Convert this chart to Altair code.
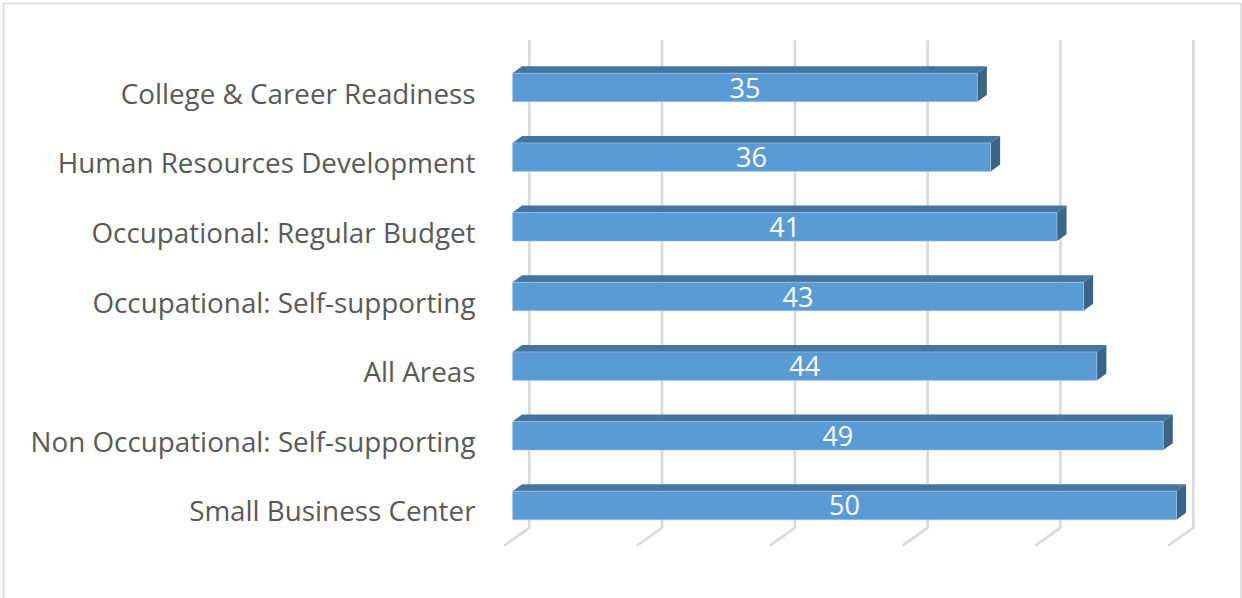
import altair as alt
import pandas as pd

categories = [
    "College & Career Readiness",
    "Human Resources Development",
    "Occupational: Regular Budget",
    "Occupational: Self-supporting",
    "All Areas",
    "Non Occupational: Self-supporting",
    "Small Business Center",
]
values = [35, 36, 41, 43, 44, 49, 50]
grid_values = [0, 10, 20, 30, 40, 50]

# Extrusion of the pseudo-3D bars and of the back wall, in data units
BAR_HALF = 0.205
DEPTH_X = 0.72
DEPTH_Y = 0.1
WALL_X = 1.26
FLOOR_X = -0.6 - 1.28
GRID_TOP, GRID_BASE, GRID_FLOOR = -0.18, 6.82, 7.075

FRONT = "#5b9bd5"
TOP = "#44749f"
SIDE = "#3a6589"
EDGE = "#a9cbe9"
GRID = "#d9d9d9"
TEXT = "#595959"
FONT = "Open Sans"

bars = pd.DataFrame({"cat": categories, "value": values, "rank": range(len(values))})
bars["center"] = bars["rank"] + 0.5
bars["top"] = bars["center"] - BAR_HALF
bars["bottom"] = bars["center"] + BAR_HALF
bars["mid"] = bars["value"] / 2
bars["zero"] = 0

top_rows, side_rows = [], []
for b in bars.itertuples():
    up = b.top - DEPTH_Y
    top_rows += [
        {"cat": b.cat, "x": 0, "y": b.top, "y2": b.top},
        {"cat": b.cat, "x": DEPTH_X, "y": up, "y2": b.top},
        {"cat": b.cat, "x": b.value, "y": up, "y2": b.top},
        {"cat": b.cat, "x": b.value + DEPTH_X, "y": up, "y2": up},
    ]
    side_rows += [
        {"cat": b.cat, "x": b.value, "y": b.top, "y2": b.bottom},
        {"cat": b.cat, "x": b.value + DEPTH_X, "y": up, "y2": b.bottom - DEPTH_Y},
    ]
top_faces = pd.DataFrame(top_rows)
side_faces = pd.DataFrame(side_rows)

grid_rows = []
for g in grid_values:
    grid_rows += [
        {"g": g, "n": 0, "x": g + WALL_X, "y": GRID_TOP},
        {"g": g, "n": 1, "x": g + WALL_X, "y": GRID_BASE},
        {"g": g, "n": 2, "x": g + WALL_X + FLOOR_X, "y": GRID_FLOOR},
    ]
grid_lines = pd.DataFrame(grid_rows)

x_scale = alt.Scale(domain=[0, 50], range=[512.5, 1176.5], nice=False, zero=False)
y_scale = alt.Scale(domain=[0, 7], range=[52.67, 540.33], nice=False, zero=False)
X = alt.X("x:Q", scale=x_scale, axis=None)
Y = alt.Y("y:Q", scale=y_scale, axis=None, stack=False)

grid_layer = alt.Chart(grid_lines).mark_line(color=GRID, strokeWidth=2.6, strokeJoin="miter").encode(
    x=X, y=Y, detail="g:N", order="n:Q"
)
top_layer = alt.Chart(top_faces).mark_area(orient="vertical", color=TOP, interpolate="linear").encode(
    x=X, y=Y, y2="y2:Q", detail="cat:N"
)
side_layer = alt.Chart(side_faces).mark_area(orient="vertical", color=SIDE, interpolate="linear").encode(
    x=X, y=Y, y2="y2:Q", detail="cat:N"
)
front_layer = alt.Chart(bars).mark_rect(color=FRONT, stroke=EDGE, strokeWidth=0.8, strokeOpacity=0.7).encode(
    x=alt.X("zero:Q", scale=x_scale, axis=None),
    x2="value:Q",
    y=alt.Y("top:Q", scale=y_scale, axis=None),
    y2="bottom:Q",
)
value_labels = alt.Chart(bars).mark_text(
    color="white", font=FONT, fontSize=27, align="center", baseline="middle", dy=2
).encode(
    x=alt.X("mid:Q", scale=x_scale, axis=None),
    y=alt.Y("center:Q", scale=y_scale, axis=None),
    text="value:Q",
)
cat_labels = alt.Chart(bars).mark_text(
    color=TEXT, font=FONT, fontSize=27.8, align="right", baseline="middle", dy=8
).encode(
    x=alt.value(475.5),
    y=alt.Y("center:Q", scale=y_scale, axis=None),
    text="cat:N",
)

# Outer frame of the chart, open along the bottom edge
frame = pd.DataFrame({"k": [0]})
frame_left = alt.Chart(frame).mark_rule(color=GRID, strokeWidth=1.6).encode(
    x=alt.value(3.5), y=alt.value(3), y2=alt.value(598)
)
frame_right = alt.Chart(frame).mark_rule(color=GRID, strokeWidth=1.6).encode(
    x=alt.value(1241), y=alt.value(3), y2=alt.value(598)
)
frame_top = alt.Chart(frame).mark_rule(color=GRID, strokeWidth=1.6).encode(
    x=alt.value(3.5), x2=alt.value(1241), y=alt.value(3.5)
)

chart = (
    alt.layer(
        frame_left, frame_right, frame_top,
        grid_layer, top_layer, side_layer, front_layer, value_labels, cat_labels,
    )
    .properties(
        width=1242,
        height=598,
        padding=0,
        autosize=alt.AutoSizeParams(type="none"),
        background="white",
    )
    .configure_view(stroke=None)
)

chart.save("out.html", embed_options={"renderer": "svg", "actions": False})
